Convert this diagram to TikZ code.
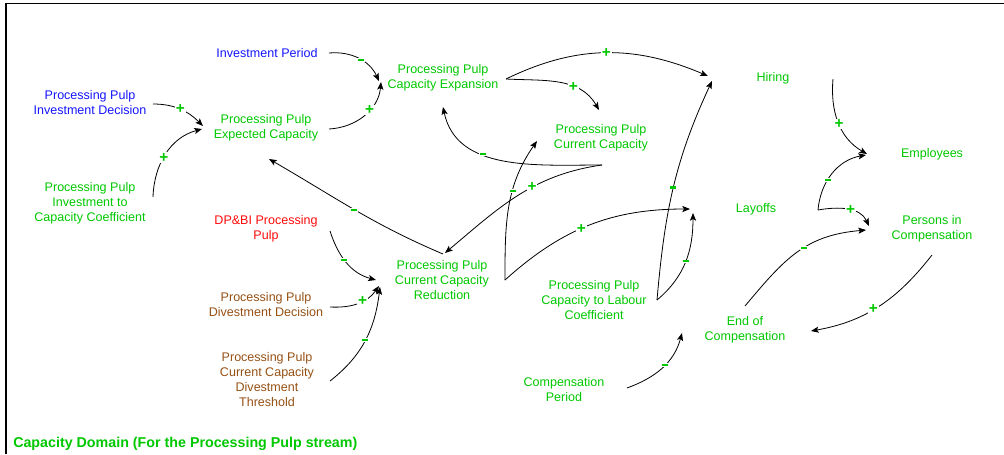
\documentclass[tikz,border=0pt]{standalone}
\usepackage{fontspec}
\setmainfont{Liberation Sans}
\usetikzlibrary{arrows.meta,calc}
\definecolor{vgreen}{RGB}{0,200,0}
\definecolor{vblue}{RGB}{20,20,255}
\definecolor{vred}{RGB}{255,10,10}
\definecolor{vbrown}{RGB}{150,80,20}
% polarity marks
\newcommand\polplus{\textbf{+}}
\newcommand\polminus{\rule{4.6pt}{1.6pt}}
\begin{document}
\begin{tikzpicture}[x=0.75pt,y=0.75pt,
  lbl/.style={font=\fontsize{9.4}{11.25}\selectfont, align=center, inner sep=0pt},
  txtgreen/.style={lbl,text=vgreen},
  txtblue/.style={lbl,text=vblue},
  txtred/.style={lbl,text=vred},
  txtbrown/.style={lbl,text=vbrown},
  heading/.style={font=\fontsize{10.7}{12}\selectfont\bfseries, text=vgreen, inner sep=0pt},
  lnk/.style={draw=black, line width=0.6pt, -{Stealth[length=5.8pt,width=4.6pt,inset=1.3pt]}},
  pol/.style={font=\fontsize{11.5}{11.5}\selectfont, text=vgreen, fill=white, inner sep=0.6pt},
]
\useasboundingbox (0,0) rectangle (1004,-454);
% frame
\draw[line width=1pt] (6,-454) -- (6,-3.5) -- (1004,-3.5);

% variables
\node[txtblue]  (ip)   at (267,-53)  {Investment Period};
\node[txtblue]  (iid)  at (90,-103)  {Processing Pulp\\Investment Decision};
\node[txtgreen] (ec)   at (266,-128) {Processing Pulp\\Expected Capacity};
\node[txtgreen] (icc)  at (90,-203)  {Processing Pulp\\Investment to\\Capacity Coefficient};
\node[txtgreen] (ce)   at (443,-78)  {Processing Pulp\\Capacity Expansion};
\node[txtgreen] (cc)   at (601,-138) {Processing Pulp\\Current Capacity};
\node[txtgreen] (hir)  at (773,-78)  {Hiring};
\node[txtgreen] (emp)  at (932,-154) {Employees};
\node[txtgreen] (lay)  at (756,-209) {Layoffs};
\node[txtgreen] (pic)  at (932,-229) {Persons in\\Compensation};
\node[txtred]   (dp)   at (266,-229) {DP\&BI Processing\\Pulp};
\node[txtgreen] (cred) at (442,-280) {Processing Pulp\\Current Capacity\\Reduction};
\node[txtgreen] (clc)  at (594,-300) {Processing Pulp\\Capacity to Labour\\Coefficient};
\node[txtbrown] (ddd)  at (266,-305) {Processing Pulp\\Divestment Decision};
\node[txtbrown] (thr)  at (267,-380) {Processing Pulp\\Current Capacity\\Divestment\\Threshold};
\node[txtgreen] (eoc)  at (745,-330) {End of\\Compensation};
\node[txtgreen] (cp)   at (564,-390) {Compensation\\Period};
\node[heading, anchor=west] (ttl) at (13,-444) {Capacity Domain (For the Processing Pulp stream)};

% causal links
\draw[lnk] ($(ip)+(62,0)$)    to[out=5,in=115]    node[pol,pos=.55]{\polminus} ($(ce)+(-64,-3)$);
\draw[lnk] ($(ec)+(63,-1)$)   to[out=3,in=-95]    node[pol,pos=.6]{\polplus}   ($(ce)+(-62,-4)$);
\draw[lnk] ($(iid)+(63,-1)$)  to[out=0,in=135]    node[pol,pos=.5]{\polplus}   ($(ec)+(-63,2)$);
\draw[lnk] ($(icc)+(63,6)$)   to[out=88,in=195]   node[pol,pos=.45]{\polplus}  ($(ec)+(-64,-1)$);
\draw[lnk] ($(ce)+(63,-1)$)   to[out=26,in=157]   node[pol,pos=.5]{\polplus}   ($(hir)+(-65,2)$);
\draw[lnk] ($(ce)+(63,-1)$)   to[out=-3,in=120]   node[pol,pos=.65]{\polplus}  ($(cc)+(-2,28)$);
\draw[lnk] ($(cc)+(1,-27)$)   to[out=180,in=-78]  node[pol,pos=.62]{\polminus} ($(ce)+(0,-29)$);
\draw[lnk] ($(cc)+(1,-27)$)   to[out=188,in=40]   node[pol,pos=.4]{\polplus}   ($(cred)+(3,27)$);
\draw[lnk] ($(cred)+(63,0)$)  to[out=90,in=-125]  node[pol,pos=.62]{\polminus} ($(cc)+(-64,-3)$);
\draw[lnk] ($(cred)+(1,26)$)  to[out=157,in=-30]  node[pol,pos=.5]{\polminus}  ($(ec)+(3,-31)$);
\draw[lnk] ($(cred)+(63,0)$)  to[out=42,in=180]   node[pol,pos=.45]{\polplus}  ($(lay)+(-66,0)$);
\draw[lnk] ($(clc)+(63,0)$)   to[out=85,in=-115]  node[pol,pos=.5]{\polminus}  ($(hir)+(-61,-3)$);
\draw[lnk] ($(clc)+(63,0)$)   to[out=40,in=-90]   node[pol,pos=.5]{\polminus}  ($(lay)+(-63,-4)$);
\draw[lnk] ($(hir)+(60,-1)$)  to[out=-95,in=150]  node[pol,pos=.52]{\polplus}  ($(emp)+(-65,0)$);
\draw[lnk] ($(lay)+(62,-1)$)  to[out=85,in=190]   node[pol,pos=.4]{\polminus}  ($(emp)+(-66,-1)$);
\draw[lnk] ($(lay)+(62,-1)$)  to[out=10,in=115]   node[pol,pos=.55]{\polplus}  ($(pic)+(-63,3)$);
\draw[lnk] ($(eoc)+(0,24)$)   to[out=50,in=185,looseness=1.1] node[pol,pos=.56]{\polminus} ($(pic)+(-66,-1)$);
\draw[lnk] ($(pic)+(0,-26)$)  to[out=232,in=10]   node[pol,pos=.55]{\polplus}  ($(eoc)+(66,-1)$);
\draw[lnk] ($(cp)+(63,2)$)    to[out=20,in=-105]  node[pol,pos=.55]{\polminus} ($(eoc)+(-63,-3)$);
\draw[lnk] ($(dp)+(64,-2)$)   to[out=-72,in=165]  node[pol,pos=.45]{\polminus} ($(cred)+(-66,0)$);
\draw[lnk] ($(ddd)+(64,-2)$)  to[out=-3,in=-125]  node[pol,pos=.6]{\polplus}   ($(cred)+(-63,-6)$);
\draw[lnk] ($(thr)+(63,-1)$)  to[out=38,in=-97]   node[pol,pos=.5]{\polminus}  ($(cred)+(-62,-7)$);
\end{tikzpicture}
\end{document}
